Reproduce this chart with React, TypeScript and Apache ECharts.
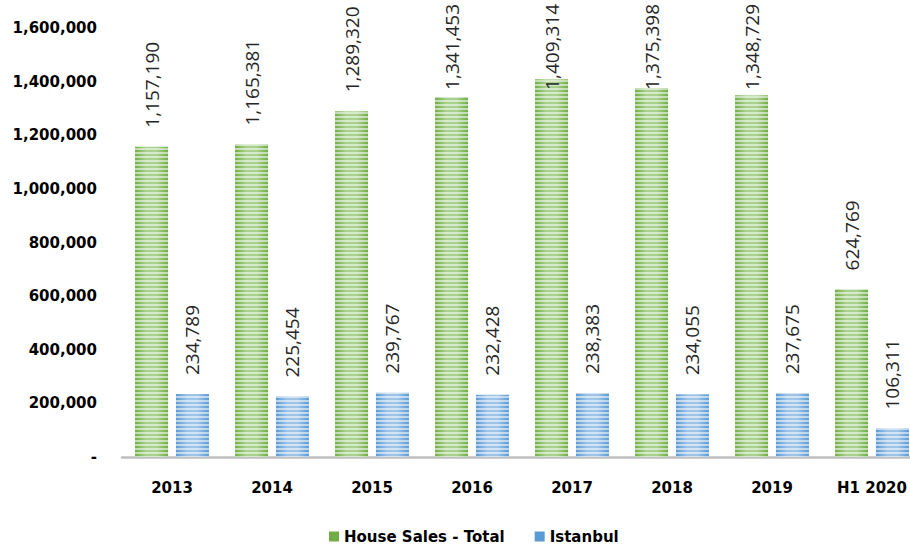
import React, { useEffect, useRef } from "react";
import * as echarts from "echarts";

const categories = ["2013", "2014", "2015", "2016", "2017", "2018", "2019", "H1 2020"];
const totalSales = [1157190, 1165381, 1289320, 1341453, 1409314, 1375398, 1348729, 624769];
const istanbulSales = [234789, 225454, 239767, 232428, 238383, 234055, 237675, 106311];
const seriesNames = ["House Sales - Total", "Istanbul"];
const yMin = 0;
const yMax = 1600000;
const yInterval = 200000;

const fmt = (v: number) => v.toLocaleString("en-US");

export default function App() {
  const ref = useRef<HTMLDivElement>(null);
  useEffect(() => {
    if (!ref.current) return;
    const chart = echarts.init(ref.current, undefined, { renderer: "svg" });
    const stripe = (base: string, light: string) => ({
      color: {
        type: "linear",
        x: 0,
        y: 0,
        x2: 1,
        y2: 0,
        colorStops: [
          { offset: 0, color: base },
          { offset: 0.35, color: light },
          { offset: 0.65, color: light },
          { offset: 1, color: base },
        ],
      },
      decal: {
        symbol: "rect",
        symbolSize: 1,
        dashArrayX: [1, 0],
        dashArrayY: [2, 2],
        rotation: 0,
        color: "rgba(255,255,255,0.55)",
      },
    });
    const labelCfg = {
      show: true,
      position: "top",
      rotate: 90,
      align: "left",
      verticalAlign: "middle",
      distance: 19,
      color: "#262626",
      fontFamily: "Open Sans",
      fontSize: 19,
      formatter: (p: any) => fmt(p.value),
    };
    const labelLayout = (p: any) => {
      const len = Math.max(p.labelRect.width, p.labelRect.height);
      return {
        x: p.rect.x + p.rect.width / 2,
        y: Math.max(p.rect.y - 19, len + 4),
      };
    };
    chart.setOption({
      animation: false,
      grid: { left: 122, right: 0, top: 28, bottom: 89, containLabel: false },
      legend: {
        data: [
          { name: seriesNames[0], itemStyle: { color: "#70ad47", decal: "none" } },
          { name: seriesNames[1], itemStyle: { color: "#5b9bd5", decal: "none" } },
        ],
        left: 324,
        top: 524,
        icon: "rect",
        itemWidth: 10,
        itemHeight: 10,
        itemGap: 30,
        textStyle: { fontFamily: "DejaVu Sans", fontWeight: "bold", fontSize: 15, color: "#000" },
      },
      xAxis: {
        type: "category",
        data: categories,
        axisLine: { lineStyle: { color: "#bfbfbf", width: 2.5 } },
        axisTick: { show: false },
        axisLabel: {
          margin: 23,
          fontFamily: "DejaVu Sans",
          fontWeight: "bold",
          fontSize: 15,
          color: "#000",
        },
      },
      yAxis: {
        type: "value",
        min: yMin,
        max: yMax,
        interval: yInterval,
        splitLine: { show: false },
        axisLine: { show: false },
        axisTick: { show: false },
        axisLabel: {
          margin: 25,
          fontFamily: "DejaVu Sans",
          fontWeight: "bold",
          fontSize: 15,
          color: "#000",
          formatter: (v: number) => (v === 0 ? "-" : fmt(v)),
        },
      },
      series: [
        {
          name: seriesNames[0],
          type: "bar",
          data: totalSales,
          barWidth: 33,
          barGap: "24%",
          itemStyle: stripe("#70ad47", "#a9d18e"),
          label: labelCfg,
          labelLayout,
        },
        {
          name: seriesNames[1],
          type: "bar",
          data: istanbulSales,
          barWidth: 33,
          itemStyle: stripe("#5b9bd5", "#9dc3e6"),
          label: labelCfg,
          labelLayout,
        },
      ],
    });
    return () => chart.dispose();
  }, []);
  return (
    <div style={{ position: "absolute", left: 0, top: 0, width: 910, height: 546, overflow: "hidden" }}>
      <div ref={ref} style={{ width: 922, height: 546 }} />
    </div>
  );
}
